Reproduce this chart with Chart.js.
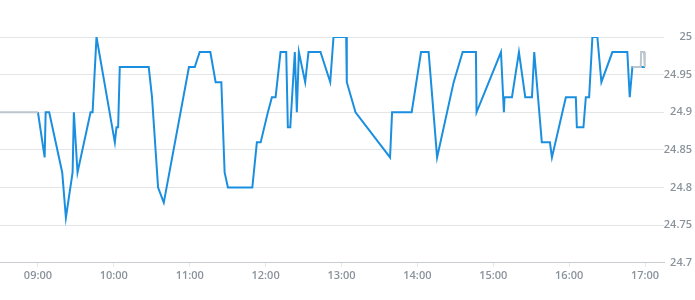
<!DOCTYPE html>
<html><head><meta charset="utf-8">
<script src="https://cdn.jsdelivr.net/npm/chart.js@4/dist/chart.umd.min.js"></script>
<style>html,body{margin:0;padding:0;background:#fff;}#wrap{width:695px;height:300px;}</style>
</head><body><div id="wrap"><canvas id="c" width="695" height="300"></canvas></div>
<script>
// times in minutes after midnight
const mainTimes = [540,545.3,546.1,548.9,559.2,562.1,567.4,568.4,571.3,581.6,583.2,586.3,600.8,602.1,603.4,604.7,627.6,630.2,635.0,639.5,659.4,664.0,667.9,676.3,680.5,685.0,687.6,690.2,709.5,713.1,716.1,721.8,725.0,727.9,731.8,736.3,737.6,739.5,743.1,744.7,746.3,751.3,753.9,763.4,771.1,773.7,783.7,784.2,791.1,818.4,820.0,835.5,842.9,848.9,855.6,868.7,875.8,886.3,886.8,906.1,908.4,908.9,914.8,920.3,925.3,930.6,932.4,938.4,944.8,946.4,957.4,965.3,966.1,971.3,973.2,975.8,978.4,982.3,985.5,994.2,1006.0,1007.9,1010.0,1020];
const mainPrices = [24.9,24.84,24.9,24.9,24.82,24.76,24.82,24.9,24.82,24.9,24.9,25.0,24.86,24.88,24.88,24.96,24.96,24.92,24.80,24.78,24.96,24.96,24.98,24.98,24.94,24.94,24.82,24.80,24.80,24.86,24.86,24.90,24.92,24.92,24.98,24.98,24.88,24.88,24.98,24.90,24.98,24.94,24.98,24.98,24.94,25.0,25.0,24.94,24.90,24.84,24.90,24.90,24.98,24.98,24.84,24.94,24.98,24.98,24.90,24.98,24.90,24.92,24.92,24.98,24.92,24.92,24.98,24.86,24.86,24.84,24.92,24.92,24.88,24.88,24.92,24.92,25.0,25.0,24.94,24.98,24.98,24.92,24.96,24.96];
const extTimes = [510,540,541,1010,1016.6,1016.9,1019.2,1019.8];
const extPrices = [24.9,24.9,null,24.96,24.96,24.98,24.98,24.96];
const xTickTimes = [540,600,660,720,780,840,900,960,1020];
const yTickValues = [24.7,24.75,24.8,24.85,24.9,24.95,25];

const toPts = (t, p) => t.map((v, i) => ({x: v, y: p[i]}));
const fmt = m => String(Math.floor(m/60)).padStart(2,'0') + ':' + String(Math.round(m%60)).padStart(2,'0');
const tickFont = {family: '"Open Sans", sans-serif', size: 11, weight: '600'};
const tickColor = '#8a939b';

new Chart(document.getElementById('c'), {
  type: 'line',
  data: {
    datasets: [
      {data: toPts(extTimes, extPrices), borderColor: '#bcc6cd', borderWidth: 2, pointRadius: 0, tension: 0, spanGaps: false, order: 0},
      {data: toPts(mainTimes, mainPrices), borderColor: '#1b8fdf', borderWidth: 2, pointRadius: 0, tension: 0, order: 1}
    ]
  },
  options: {
    responsive: false, animation: false,
    layout: {padding: {top: 37, left: 0, right: 3, bottom: 16}},
    plugins: {legend: {display: false}, tooltip: {enabled: false}},
    scales: {
      x: {
        type: 'linear', min: 510, max: 1035,
        afterBuildTicks: s => { s.ticks = xTickTimes.map(v => ({value: v})); },
        ticks: {callback: v => fmt(v), font: tickFont, color: tickColor, padding: 2, maxRotation: 0, autoSkip: false},
        grid: {drawOnChartArea: false, drawTicks: true, tickLength: 4, color: '#e6e8ea'},
        border: {display: true, color: '#c9cdd1', width: 1}
      },
      y: {
        position: 'right', min: 24.7, max: 25,
        afterBuildTicks: s => { s.ticks = yTickValues.map(v => ({value: v})); },
        afterFit: s => { s.width = 28; },
        ticks: {callback: v => String(+v.toFixed(2)), font: tickFont, color: tickColor, padding: 0, crossAlign: 'far'},
        grid: {drawTicks: false, color: '#e3e5e7'},
        border: {display: false}
      }
    }
  }
});
</script></body></html>
